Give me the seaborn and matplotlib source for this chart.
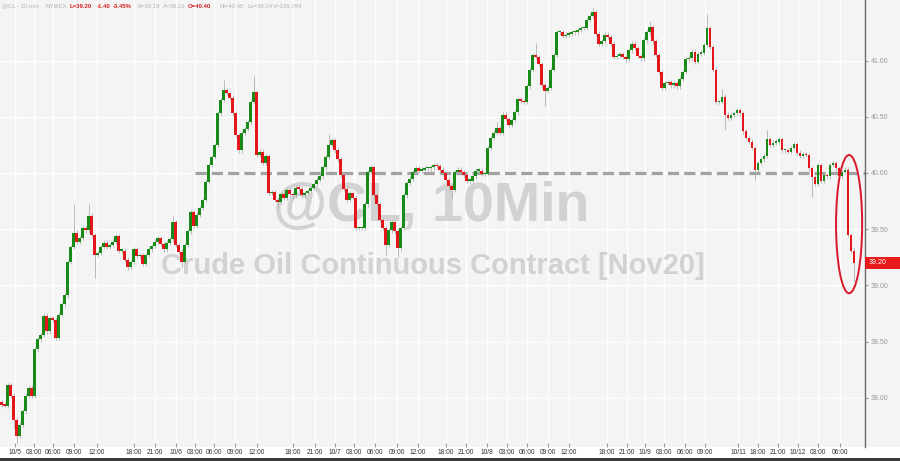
import numpy as np
import pandas as pd
import seaborn as sns
import matplotlib.pyplot as plt
import matplotlib.transforms as mtransforms
from matplotlib.patches import Ellipse, Rectangle

sns.set_style("whitegrid")
plt.rcParams['font.family'] = ['Liberation Sans', 'DejaVu Sans']

# @CL 10 min, resampled to ~30 min candles (close of each bar), 10/4 evening -> 10/12 morning
closes = [
    37.94, 37.93, 38.11, 38.02, 37.80, 37.66, 37.76, 37.88, 38.02, 38.09,
    38.02, 38.43, 38.52, 38.56, 38.73, 38.59, 38.71, 38.69, 38.53, 38.74,
    38.83, 38.91, 39.21, 39.34, 39.47, 39.39, 39.42, 39.51, 39.49, 39.62,
    39.45, 39.27, 39.29, 39.34, 39.38, 39.34, 39.36, 39.39, 39.44, 39.31,
    39.31, 39.23, 39.16, 39.21, 39.32, 39.26, 39.27, 39.19, 39.27, 39.32,
    39.35, 39.39, 39.42, 39.37, 39.32, 39.38, 39.41, 39.56, 39.36, 39.30,
    39.21, 39.36, 39.48, 39.65, 39.53, 39.63, 39.69, 39.76, 39.92, 40.07,
    40.14, 40.25, 40.53, 40.65, 40.74, 40.71, 40.67, 40.53, 40.34, 40.20,
    40.36, 40.39, 40.45, 40.63, 40.72, 40.16, 40.19, 40.09, 40.15, 39.82,
    39.83, 39.76, 39.74, 39.81, 39.78, 39.85, 39.81, 39.80, 39.87, 39.86,
    39.80, 39.82, 39.84, 39.87, 39.90, 39.94, 39.97, 40.05, 40.14, 40.25,
    40.29, 40.20, 40.12, 39.98, 39.86, 39.76, 39.82, 39.78, 39.51, 39.51,
    39.51, 39.72, 40.01, 40.05, 39.80, 39.72, 39.58, 39.51, 39.36, 39.49,
    39.56, 39.48, 39.33, 39.51, 39.80, 39.91, 39.95, 40.01, 40.04, 40.02,
    40.03, 40.04, 40.04, 40.05, 40.07, 40.06, 40.03, 40.00, 39.94, 39.88,
    39.85, 40.01, 40.03, 40.01, 39.98, 39.93, 39.93, 39.97, 40.02, 40.02,
    39.99, 39.99, 40.22, 40.31, 40.36, 40.40, 40.36, 40.52, 40.48, 40.43,
    40.47, 40.54, 40.66, 40.64, 40.63, 40.77, 40.92, 41.05, 41.03, 40.97,
    40.78, 40.73, 40.76, 40.92, 41.05, 41.25, 41.25, 41.22, 41.23, 41.24,
    41.25, 41.25, 41.27, 41.29, 41.29, 41.36, 41.40, 41.43, 41.24, 41.15,
    41.17, 41.23, 41.21, 41.15, 41.03, 41.04, 41.06, 41.03, 41.01, 41.09,
    41.15, 41.11, 41.04, 41.02, 41.18, 41.25, 41.30, 41.17, 41.05, 40.90,
    40.76, 40.80, 40.81, 40.78, 40.80, 40.77, 40.84, 40.90, 41.01, 41.02,
    41.08, 40.99, 41.06, 41.07, 41.14, 41.29, 41.12, 40.92, 40.63, 40.63,
    40.68, 40.52, 40.49, 40.52, 40.53, 40.56, 40.53, 40.37, 40.31, 40.28,
    40.22, 40.03, 40.09, 40.12, 40.15, 40.30, 40.25, 40.27, 40.28, 40.30,
    40.20, 40.20, 40.19, 40.22, 40.26, 40.18, 40.15, 40.17, 40.16, 40.04,
    39.96, 39.90, 40.07, 39.93, 39.98, 39.97, 40.07, 40.09, 40.04, 39.97,
    40.01, 40.03, 39.45, 39.31, 39.20,
]
first_open = 37.96

# the longer wicks that stick out
spike_highs = {24: 39.72, 29: 39.72, 57: 39.62, 74: 40.83, 84: 40.86, 109: 40.35,
               165: 40.45, 178: 41.16, 197: 41.47, 216: 41.35, 235: 41.41, 240: 40.75, 255: 40.38}
spike_lows = {4: 37.72, 5: 37.60, 31: 39.07, 60: 39.16, 92: 39.68, 128: 39.27, 132: 39.25,
              150: 39.77, 181: 40.60, 241: 40.38, 251: 39.94, 270: 39.79, 284: 39.04}

tick_pos = [4.5, 10.8, 17.2, 24.2, 31.8, 44.2, 51.2, 58.2, 64.5, 70.8, 77.8, 85.2,
            97.2, 104.5, 111.2, 117.5, 124.5, 131.8, 138.8, 148.2, 154.8, 161.8, 168.5,
            175.2, 182.2, 189.2, 201.8, 208.5, 214.5, 220.8, 227.8, 234.5, 245.5, 252.2,
            258.8, 265.5, 272.2, 279.5]
tick_labels = ['10/5', '03:00', '06:00', '09:00', '12:00', '18:00', '21:00', '10/6', '03:00',
               '06:00', '09:00', '12:00', '18:00', '21:00', '10/7', '03:00', '06:00', '09:00',
               '12:00', '18:00', '21:00', '10/8', '03:00', '06:00', '09:00', '12:00', '18:00',
               '21:00', '10/9', '03:00', '06:00', '09:00', '10/11', '18:00', '21:00', '10/12',
               '03:00', '06:00']
y_ticks = [38.0, 38.5, 39.0, 39.5, 40.0, 40.5, 41.0]
ref_level = 40.00
last_price = 39.20

header = [('@CL - 10 min', '#b4b4b4'), ('NYMEX', '#b4b4b4'), ('L=39.20', '#d42020'),
          ('-1.40', '#d42020'), ('-3.45%', '#d42020'), ('B=39.19', '#b4b4b4'),
          ('A=39.21', '#b4b4b4'), ('O=40.40', '#d42020'), ('Hi=40.45', '#b4b4b4'),
          ('Lo=39.04', '#b4b4b4'), ('V=139,784', '#b4b4b4')]
header_x = [2, 45, 70, 97, 113, 137, 163, 188, 220, 247, 273]

green = '#178a17'
red = '#e3161b'
bg = '#f4f4f4'

df = pd.DataFrame({'close': closes})
df['open'] = df['close'].shift(1).fillna(first_open)
df['high'] = df[['open', 'close']].max(axis=1) + 0.02
df['low'] = df[['open', 'close']].min(axis=1) - 0.02
for k, v in spike_highs.items():
    df.loc[k, 'high'] = max(df.loc[k, 'high'], v)
for k, v in spike_lows.items():
    df.loc[k, 'low'] = min(df.loc[k, 'low'], v)
df['up'] = df['close'] >= df['open']

fig = plt.figure(figsize=(9, 4.61), dpi=100, facecolor=bg)

# bottom label strip + dark bar (behind the axes)
fig.patches.append(Rectangle((0, 3 / 461), 1, 11 / 461, transform=fig.transFigure,
                             facecolor='white', edgecolor='none', zorder=-2))
fig.patches.append(Rectangle((0, 0), 1, 3 / 461, transform=fig.transFigure,
                             facecolor='#3a3a3a', edgecolor='none', zorder=-2))

ax = fig.add_axes([0, 14 / 461, 865 / 900, 447 / 461])
ax.set_facecolor(bg)
ax.set_xlim(-0.5, 287.8)
ax.set_ylim(37.562, 41.539)

# watermark
ax.text(0.499, 0.537, '@CL, 10Min', transform=ax.transAxes, ha='center', va='center',
        fontsize=40, fontweight='bold', color='#d2d2d2', zorder=1)
ax.text(0.5, 0.405, 'Crude Oil Continuous Contract [Nov20]', transform=ax.transAxes,
        ha='center', va='center', fontsize=21, fontweight='bold', color='#d2d2d2', zorder=1)

# reference level
ax.hlines(ref_level, tick_pos[8], 287.8, colors='#a2a2a2', linewidth=2.3,
          linestyles=(0, (3.5, 1.6)), zorder=2)

# candles
ax.vlines(df.index, df['low'], df['high'], color='#b0b0b0', linewidth=0.6, zorder=3)
body_lo = df[['open', 'close']].min(axis=1)
body_h = (df['close'] - df['open']).abs().clip(lower=0.012)
ax.bar(df.index, body_h, bottom=body_lo, width=0.72,
       color=np.where(df['up'], green, red), linewidth=0, zorder=4)

# circle around the last drop
tail = df.tail(4)
hi_max, lo_min = tail['high'].max(), tail['low'].min()
ax.add_patch(Ellipse((df.index[-1] - 1.5, (hi_max + lo_min) / 2), 8.7, hi_max - lo_min + 0.22,
                     fill=False, edgecolor='#d8182a', linewidth=1.4, zorder=5))

# axes styling
ax.grid(True, color='white', linewidth=1.0)
for s in ['top', 'left', 'bottom']:
    ax.spines[s].set_visible(False)
ax.spines['right'].set_color('#6a6a6a')
ax.spines['right'].set_linewidth(1.0)

ax.set_xticks(tick_pos)
ax.set_xticklabels(tick_labels)
ax.tick_params(axis='x', bottom=True, labelbottom=True, direction='in', length=3,
               color='#9a9a9a', labelsize=4.8, labelcolor='#333333', pad=1.5)
ax.yaxis.tick_right()
ax.set_yticks(y_ticks)
ax.set_yticklabels([f'{v:.2f}' for v in y_ticks])
ax.tick_params(axis='y', right=True, direction='out', length=2.5, color='#9a9a9a',
               labelsize=5, labelcolor='#9a9a9a', pad=1.5)

# last price tag on the axis
tr = mtransforms.blended_transform_factory(ax.transAxes, ax.transData)
ax.add_patch(Rectangle((1.0, last_price - 0.053), 0.042, 0.106, transform=tr,
                       facecolor='#ea1a1a', edgecolor='none', clip_on=False, zorder=6))
ax.text(1.004, last_price, f'{last_price:.2f}', transform=tr, ha='left', va='center',
        fontsize=5, color='white', zorder=7)

# header line
for (txt, col), hx in zip(header, header_x):
    bold = col != '#b4b4b4'
    fig.text(hx / 900, 1 - 6 / 461, txt, ha='left', va='center', fontsize=4.3,
             color=col, fontweight='bold' if bold else 'normal')

fig.savefig('out.png', dpi=100, facecolor=bg)
